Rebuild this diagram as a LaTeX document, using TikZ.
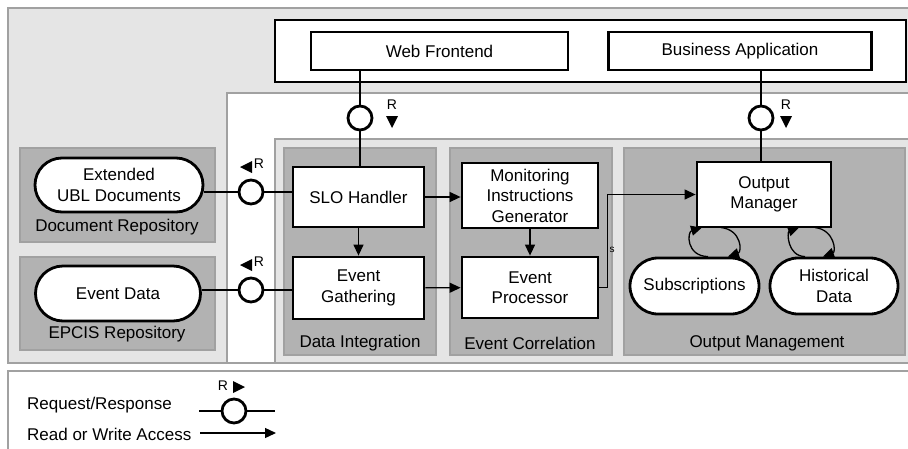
\documentclass[tikz,border=0pt]{standalone}
\usepackage{fontspec}
\setmainfont{Liberation Sans}
\usetikzlibrary{arrows.meta,shapes.misc,positioning}

\definecolor{bglight}{gray}{0.90}
\definecolor{bgpanel}{gray}{0.70}
\definecolor{arealine}{gray}{0.63}

\tikzset{
  comp/.style={draw,line width=2.8pt,fill=white,align=center,inner sep=0pt},
  store/.style={rounded rectangle,draw,line width=2.8pt,fill=white,align=center,inner sep=0pt},
  rr/.style={circle,draw,line width=2.8pt,fill=white,minimum size=24pt,inner sep=0pt},
  area/.style={draw=arealine,line width=1.3pt},
  wire/.style={line width=1.3pt},
  rw/.style={line width=1.3pt,-{Triangle[length=11pt,width=10pt]}},
  lbl/.style={inner sep=0pt},
  rlbl/.style={inner sep=0pt,font=\fontsize{14}{15}\selectfont}
}

\begin{document}
\begin{tikzpicture}[x=1pt,y=-1pt,font=\fontsize{17}{20.5}\selectfont]
\useasboundingbox (0,0) rectangle (908,448);
\fill[white] (0,0) rectangle (908,448);

% areas
\draw[area,fill=bglight] (8,8) rectangle (915,363);
\draw[area,fill=white] (227,93) rectangle (915,363);
\draw[area,fill=bglight] (275,139) rectangle (915,363);
\draw[area,fill=bgpanel] (20,148) rectangle (215,242);
\draw[area,fill=bgpanel] (20,257) rectangle (215,350);
\draw[area,fill=bgpanel] (284,148) rectangle (436,355);
\draw[area,fill=bgpanel] (450,148) rectangle (612,355);
\draw[area,fill=bgpanel] (624,148) rectangle (905,355);
\draw[area,fill=white] (8,371) rectangle (915,455);

\node[lbl] (docrepo) at (117,227) {Document Repository};
\node[lbl] (epcis) at (117,334) {EPCIS Repository};
\node[lbl] (dataint) at (360,343) {Data Integration};
\node[lbl] (evcorr) at (530,343) {Event Correlation};
\node[lbl] (outmgmt) at (767,343) {Output Management};
\node[lbl,font=\fontsize{10}{11}\selectfont] (stray) at (612,250) {s};

% applications
\draw[line width=2.8pt,fill=white] (275,20) rectangle (906,82);
\node[comp,minimum width=257pt,minimum height=38pt] (web) at (439.5,51) {Web Frontend};
\node[comp,minimum width=263pt,minimum height=38pt] (bizapp) at (740,51) {Business Application};

% components
\node[store,minimum width=168pt,minimum height=54pt] (ubl) at (119,185) {Extended\\UBL Documents};
\node[store,minimum width=165pt,minimum height=55pt] (evdata) at (118,293.5) {Event Data};
\node[comp,minimum width=131pt,minimum height=60pt] (slo) at (358.5,197) {SLO Handler};
\node[comp,minimum width=131pt,minimum height=62pt] (gather) at (358.5,288) {Event\\Gathering};
\node[comp,minimum width=136pt,minimum height=65pt] (mig) at (530,195.5) {Monitoring\\Instructions\\Generator};
\node[comp,minimum width=136pt,minimum height=61pt] (proc) at (530,287.5) {Event\\Processor};
\node[comp,minimum width=134pt,minimum height=65pt] (outmgr) at (764,194.5) {Output\\Manager};
\node[store,minimum width=129pt,minimum height=56pt] (subs) at (694.5,286) {Subscriptions};
\node[store,minimum width=128pt,minimum height=56pt] (hist) at (834,286) {Historical\\Data};

% request/response
\node[rr] (rrWeb) at (360,118) {};
\node[rr] (rrBiz) at (761,118) {};
\node[rr] (rrUbl) at (251,192) {};
\node[rr] (rrEpc) at (251,290) {};
\draw[wire] (rrWeb) -- (rrWeb |- web.south);
\draw[wire] (rrWeb) -- (rrWeb |- slo.north);
\draw[wire] (rrBiz) -- (rrBiz |- bizapp.south);
\draw[wire] (rrBiz) -- (rrBiz |- outmgr.north);
\draw[wire] (rrUbl) -- (rrUbl -| ubl.east);
\draw[wire] (rrUbl) -- (rrUbl -| slo.west);
\draw[wire] (rrEpc) -- (rrEpc -| evdata.east);
\draw[wire] (rrEpc) -- (rrEpc -| gather.west);

\node[rlbl] (rWeb) at (392,105) {R};
\fill (386,116) -- (398,116) -- (392,128) -- cycle;
\node[rlbl] (rBiz) at (786,105) {R};
\fill (780,116) -- (792,116) -- (786,128) -- cycle;
\node[rlbl] (rUbl) at (259,164) {R};
\fill (252,161) -- (252,173) -- (240,167) -- cycle;
\node[rlbl] (rEpc) at (259,262) {R};
\fill (252,259) -- (252,271) -- (240,265) -- cycle;

% read / write
\draw[rw] (slo.east) -- (slo.east -| mig.west);
\draw[rw] (slo) -- (gather);
\draw[rw] (gather) -- (proc);
\draw[rw] (mig) -- (proc);
\draw[rw] (proc.east) -- ++(8,0) |- (outmgr.west);
\draw[rw] (subs.north -| 708,0) .. controls (686,256) and (687,232) .. (702,227.5);
\draw[rw] (721,227.5) .. controls (742,230) and (742,252) .. (subs.north -| 728,0);
\draw[rw] (hist.north -| 805,0) .. controls (787,256) and (787,232) .. (799,227.5);
\draw[rw] (815,227.5) .. controls (835,230) and (836,252) .. (hist.north -| 823,0);

% legend
\node[lbl,anchor=west] (legrr) at (27,405) {Request/Response};
\node[lbl,anchor=west] (legrw) at (27,434) {Read or Write Access};
\node[rr] (rrLeg) at (234,411) {};
\coordinate (legA) at (199,411);
\coordinate (legB) at (275,411);
\draw[wire] (legA) -- (rrLeg) -- (legB);
\node[rlbl] (rLeg) at (223,386) {R};
\fill (233,381) -- (233,393) -- (245,387) -- cycle;
\coordinate (legC) at (200,433);
\coordinate (legD) at (276,433);
\draw[rw] (legC) -- (legD);
\end{tikzpicture}
\end{document}
